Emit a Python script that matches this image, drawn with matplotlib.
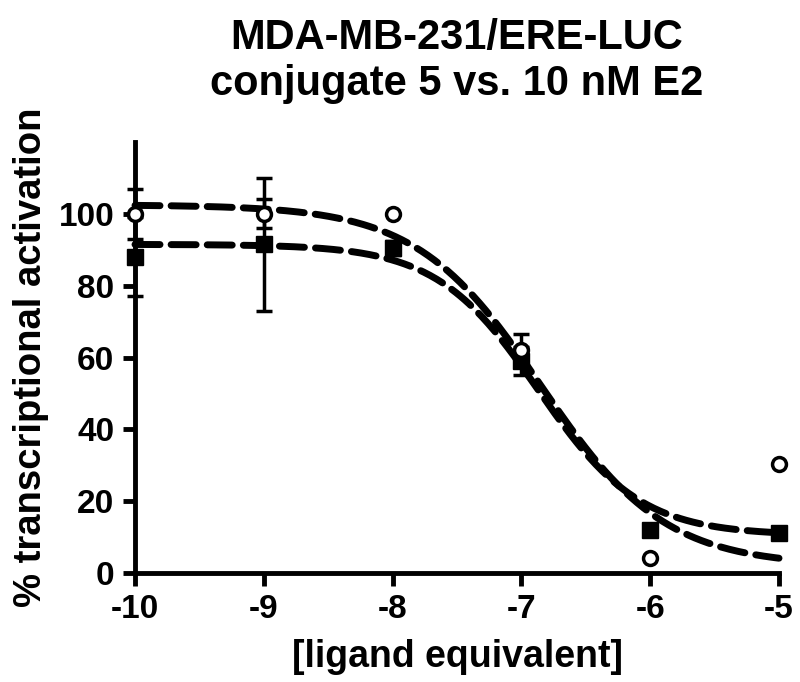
import numpy as np
import matplotlib
matplotlib.use('Agg')
import matplotlib.pyplot as plt

plt.rcParams['font.family'] = ['Liberation Sans', 'DejaVu Sans']
plt.rcParams['font.weight'] = 'bold'
plt.rcParams['axes.unicode_minus'] = False

# log concentration
dose = [-10, -9, -8, -7, -6, -5]

# open circles
circ_y = [100, 100, 100, 62, 4.2, 30.4]
circ_err = [7, 4, 0, 4.5, 0, 0]

# filled squares
sq_y = [88, 91.5, 90.5, 59, 12, 11.2]
sq_err = [11, 18.5, 2, 4, 0, 0]

# sigmoid fit parameters (top, bottom, logIC50, hill)
circ_fit = (102.5, 2.0, -6.85, 0.9)
sq_fit = (91.5, 10.5, -6.87, 1.1)


def sigmoid(x, top, bottom, logic50, hill):
    return bottom + (top - bottom) / (1 + 10 ** ((x - logic50) * hill))


fig = plt.figure(figsize=(8, 6.82), dpi=100)
ax = fig.add_axes([0.16875, 0.1598, 0.805, 0.632])

xx = np.linspace(-10, -5, 300)
for p in (circ_fit, sq_fit):
    ax.plot(xx, sigmoid(xx, *p), color='black', lw=5, ls=(0, (3.6, 1.6)),
            dash_capstyle='round', clip_on=False, zorder=2)

for y, e in ((sq_y, sq_err), (circ_y, circ_err)):
    x = np.array(dose)
    y = np.array(y)
    e = np.array(e)
    m = e > 0
    ax.errorbar(x[m], y[m], yerr=e[m], fmt='none', ecolor='black', elinewidth=2.5,
                capsize=6, capthick=2.5, clip_on=False, zorder=3)

ax.plot(dose, sq_y, 's', color='black', ms=11, ls='none', clip_on=False, zorder=4)
ax.plot(dose, circ_y, 'o', mfc='white', mec='black', mew=2.5, ms=10, ls='none',
        clip_on=False, zorder=5)

ax.set_xlim(-10, -5)
ax.set_ylim(0, 120)
ax.set_yticks([0, 20, 40, 60, 80, 100])
ax.set_xticks(dose)
ax.spines['top'].set_visible(False)
ax.spines['right'].set_visible(False)
for s in ('left', 'bottom'):
    ax.spines[s].set_linewidth(3.5)
ax.tick_params(width=3.5, length=9, labelsize=24, pad=6)

ax.set_xlabel('[ligand equivalent]', fontsize=27, fontweight='bold', labelpad=10)
ax.set_ylabel('% transcriptional activation', fontsize=27.5, fontweight='bold', labelpad=7)
ax.set_title('MDA-MB-231/ERE-LUC\nconjugate 5 vs. 10 nM E2', fontsize=30,
             fontweight='bold', pad=34, linespacing=1.2)

fig.savefig('out.png', dpi=100)
